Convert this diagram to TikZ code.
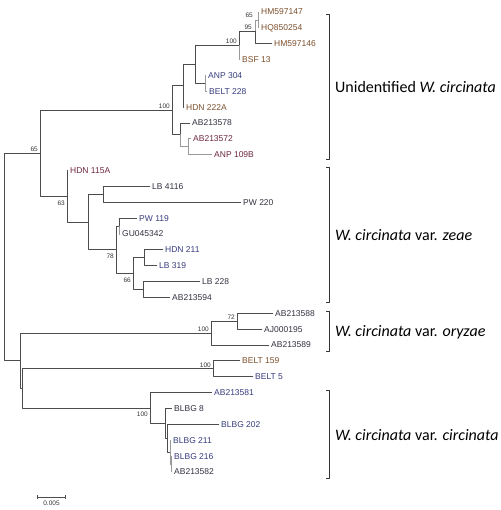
\documentclass[tikz,border=0pt]{standalone}
\usepackage{fontspec}
\setmainfont{Liberation Sans}
\newfontfamily\grpfont{Carlito}
\usetikzlibrary{calc,arrows.meta}
\definecolor{labbrown}{RGB}{125,80,45}
\definecolor{labblue}{RGB}{55,60,125}
\definecolor{labmaroon}{RGB}{110,40,60}
\definecolor{labdark}{RGB}{50,50,65}

\begin{document}
\begin{tikzpicture}[x=1pt,y=-1pt,line join=round,line cap=rect,
    branch/.style={draw=black!70,line width=0.9pt},
    branchlt/.style={draw=black!40,line width=0.9pt},
    leaf/.style={font=\fontsize{8.5}{9}\selectfont,anchor=west,inner sep=2pt},
    boot/.style={font=\fontsize{6.5}{7}\selectfont,inner sep=0pt,text=black!80},
    grp/.style={font=\grpfont\fontsize{16}{18}\selectfont,anchor=west,inner sep=0pt}]
    \useasboundingbox (0,0) rectangle (500,510);
    % leaf tips and labels
    \foreach \i/\x/\txt/\c in {0/259/HM597147/labbrown,1/259/HQ850254/labbrown,2/272/HM597146/labbrown,
        3/240/BSF 13/labbrown,4/206/ANP 304/labblue,5/207/BELT 228/labblue,6/184/HDN 222A/labbrown,
        7/190/AB213578/labdark,8/191/AB213572/labmaroon,9/212/ANP 109B/labmaroon,10/68/HDN 115A/labmaroon,
        11/150/LB 4116/labdark,12/241/PW 220/labdark,13/137/PW 119/labblue,14/120/GU045342/labdark,
        15/163/HDN 211/labblue,16/157/LB 319/labblue,17/200/LB 228/labdark,18/170/AB213594/labdark,
        19/273/AB213588/labdark,20/262/AJ000195/labdark,21/269/AB213589/labdark,22/240/BELT 159/labbrown,
        23/253/BELT 5/labblue,24/212/AB213581/labblue,25/172/BLBG 8/labdark,26/219/BLBG 202/labblue,
        27/171/BLBG 211/labblue,28/172/BLBG 216/labblue,29/172/AB213582/labdark}{
        \coordinate (t\i) at (\x,{12+15.86*\i});
        \node[leaf,text=\c] (l\i) at (t\i) {\txt};
    }
    % inner nodes
    \foreach \n/\x/\y in {n1/258/20,n2/255/31.8,n3/239/45.7,n4/205/83.4,n5/195/64.5,n6/183/85.9,
        n7/188/146.8,n8/180/134.9,n9/172/110.4,n10/103/194.4,n11/119/226.1,n12/144/257.9,
        n13/143/289.6,n14/133/273.7,n15/116/249.9,n16/88/222.1,n17/67/196.4,n18/40/153.4,
        n19/237/321.3,n20/211/333.2,n21/213/368.9,n22/171/464,n23/170/452.1,n24/167/438.3,
        n25/165/423.4,n26/150/408,n27/22.7/388.5,n28/20/360.9,r/4/257.2}{
        \coordinate (\n) at (\x,\y);
    }
    % branches
    \foreach \p/\c/\s in {n1/t0/branchlt,n1/t1/branchlt,n2/n1/branchlt,n2/t2/branch,n3/n2/branch,
        n3/t3/branchlt,n4/t4/branchlt,n4/t5/branchlt,n5/n3/branch,n5/n4/branch,n6/n5/branch,n6/t6/branch,
        n7/t8/branchlt,n7/t9/branchlt,n8/t7/branch,n8/n7/branchlt,n9/n6/branch,n9/n8/branch,
        n10/t11/branch,n10/t12/branch,n11/t13/branch,n11/t14/branchlt,n12/t15/branch,n12/t16/branch,
        n13/t17/branch,n13/t18/branch,n14/n12/branch,n14/n13/branch,n15/n11/branch,n15/n14/branch,
        n16/n10/branch,n16/n15/branch,n17/t10/branch,n17/n16/branch,n18/n9/branch,n18/n17/branch,
        n19/t19/branch,n19/t20/branch,n20/n19/branch,n20/t21/branch,n21/t22/branch,n21/t23/branch,
        n22/t28/branchlt,n22/t29/branchlt,n23/t27/branchlt,n23/n22/branchlt,n24/t26/branch,n24/n23/branch,
        n25/t25/branch,n25/n24/branch,n26/t24/branch,n26/n25/branch,n27/n21/branch,n27/n26/branch,
        n28/n20/branch,n28/n27/branch,r/n18/branch,r/n28/branch}{
        \draw[\s] (\p) |- (\c);
    }
    % bootstrap values
    \foreach \n/\v/\a/\dx/\dy in {n1/65/south east/-5/-2,n2/95/south east/-3/-2,n3/100/south east/-2/-1.5,
        n9/100/south east/-2/-1.5,n18/65/south east/-2/-1.5,n17/63/north east/-2/4,n15/78/north east/-2/4,
        n14/66/north east/-2/4,n19/72/south east/-2/-1.5,n20/100/south east/-2/-1.5,
        n21/100/south east/-2/-1.5,n26/100/north east/-2/4}{
        \node[boot,anchor=\a] (b\n) at ([shift={(\dx,\dy)}]\n) {\v};
    }
    % group brackets
    \foreach \k/\a/\b/\txt in {1/14/159/{Unidentified \textit{W. circinata}},
        2/167/302/{\textit{W. circinata} var. \textit{zeae}},
        3/311/351/{\textit{W. circinata} var. \textit{oryzae}},
        4/390/478/{\textit{W. circinata} var. \textit{circinata}}}{
        \coordinate (g\k a) at (329,\a);
        \coordinate (g\k b) at (329,\b);
        \draw[black!80,line width=0.8pt] ([xshift=-3]g\k a) -- (g\k a) -- (g\k b) -- ([xshift=-3]g\k b);
        \node[grp] (grp\k) at ($(g\k a)!0.5!(g\k b)+(6,1)$) {\txt};
    }
    % scale bar
    \coordinate (s1) at (37,497);
    \coordinate (s2) at (66,497);
    \draw[black!70,line width=0.7pt,{Bar[width=4pt]}-{Bar[width=4pt]}] (s1) -- (s2);
    \node[boot,anchor=north] (sc) at ($(s1)!0.5!(s2)+(0,4)$) {0.005};
\end{tikzpicture}
\end{document}
